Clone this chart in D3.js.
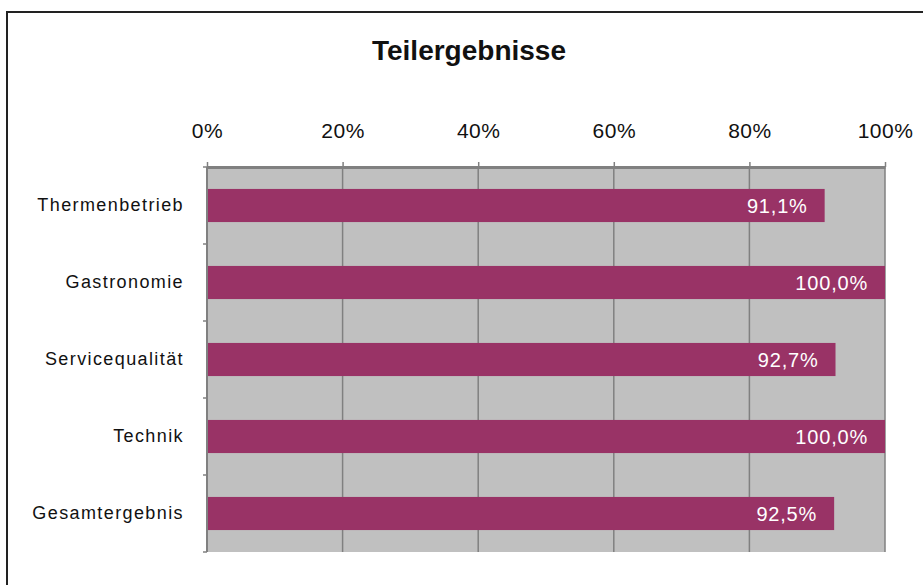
<!DOCTYPE html>
<html>
<head>
<meta charset="utf-8">
<script src="https://cdn.jsdelivr.net/npm/d3@7"></script>
<style>
  body { margin: 0; background: #fff; }
  svg { display: block; font-family: "Liberation Sans", Arial, sans-serif; }
</style>
</head>
<body>
<div id="chart-area"></div>
<script>
const width = 923, height = 585;
const margin = ({top: 167, right: 38, bottom: 33, left: 207});

// Data
const categories = ["Thermenbetrieb", "Gastronomie", "Servicequalität", "Technik", "Gesamtergebnis"];
const values = [91.1, 100.0, 92.7, 100.0, 92.5];
const tickValues = [0, 20, 40, 60, 80, 100];
const title = "Teilergebnisse";

const data = categories.map((c, i) => ({name: c, value: values[i]}));

const svg = d3.select("#chart-area").append("svg")
    .attr("width", width)
    .attr("height", height);

// outer chart frame (runs off the right and bottom edge)
svg.append("rect")
    .attr("x", 7).attr("y", 12)
    .attr("width", 960).attr("height", 620)
    .attr("fill", "#fff")
    .attr("stroke", "#222")
    .attr("stroke-width", 2);

const x = d3.scaleLinear()
    .domain([0, 100])
    .range([margin.left, width - margin.right]);

const y = d3.scaleBand()
    .domain(categories)
    .range([margin.top, height - margin.bottom])
    .paddingInner(0.57)
    .paddingOuter(0.285);

// plot background
svg.append("rect")
    .attr("x", x(0)).attr("y", margin.top)
    .attr("width", x(100) - x(0))
    .attr("height", height - margin.bottom - margin.top)
    .attr("fill", "#c0c0c0");

// vertical grid
svg.append("g")
    .selectAll("line")
    .data(tickValues.slice(1))
    .join("line")
    .attr("x1", d => x(d)).attr("x2", d => x(d))
    .attr("y1", margin.top).attr("y2", height - margin.bottom)
    .attr("stroke", "#808080")
    .attr("stroke-width", 1.5);

// bars
svg.append("g")
    .selectAll("rect")
    .data(data)
    .join("rect")
    .attr("x", x(0))
    .attr("y", d => y(d.name))
    .attr("width", d => x(d.value) - x(0))
    .attr("height", y.bandwidth())
    .attr("fill", "#993366");

// value labels
const fmt = v => v.toFixed(1).replace(".", ",") + "%";
svg.append("g")
    .selectAll("text")
    .data(data)
    .join("text")
    .attr("x", d => x(d.value) - 17)
    .attr("y", d => y(d.name) + y.bandwidth() / 2)
    .attr("dy", "0.36em")
    .attr("text-anchor", "end")
    .attr("fill", "#fff")
    .style("font-size", "20px")
    .style("letter-spacing", "0.8px")
    .text(d => fmt(d.value));

// top axis
const xAxis = g => g
    .attr("transform", `translate(0,${margin.top})`)
    .call(d3.axisTop(x).tickValues(tickValues).tickFormat(d => d + "%").tickSize(5).tickSizeOuter(0).tickPadding(24))
    .call(g => g.select(".domain").attr("stroke", "#808080").attr("stroke-width", 3))
    .call(g => g.selectAll(".tick line").attr("stroke", "#808080").attr("stroke-width", 1.5))
    .call(g => g.selectAll(".tick text")
        .attr("fill", "#111")
        .style("font-size", "21px")
        .style("letter-spacing", "0.5px")
        .style("font-family", "'Liberation Sans', Arial, sans-serif"));

svg.append("g").call(xAxis);

// left axis line with ticks at category boundaries
const gap = (y.step() - y.bandwidth()) / 2;
const boundaries = categories.map(c => y(c) - gap).concat([height - margin.bottom]);
svg.append("line")
    .attr("x1", x(0)).attr("x2", x(0))
    .attr("y1", margin.top).attr("y2", height - margin.bottom)
    .attr("stroke", "#808080").attr("stroke-width", 2);
svg.append("g")
    .selectAll("line")
    .data(boundaries)
    .join("line")
    .attr("x1", x(0) - 4).attr("x2", x(0))
    .attr("y1", d => d).attr("y2", d => d)
    .attr("stroke", "#808080").attr("stroke-width", 1.5);

// category labels
svg.append("g")
    .selectAll("text")
    .data(categories)
    .join("text")
    .attr("x", 184)
    .attr("y", d => y(d) + y.bandwidth() / 2)
    .attr("dy", "0.3em")
    .attr("text-anchor", "end")
    .attr("fill", "#111")
    .style("font-size", "18px")
    .style("letter-spacing", "1.4px")
    .text(d => d);

// title
svg.append("text")
    .attr("x", 469)
    .attr("y", 60)
    .attr("text-anchor", "middle")
    .attr("font-weight", "bold")
    .attr("fill", "#111")
    .style("font-size", "28px")
    .text(title);
</script>
</body>
</html>
